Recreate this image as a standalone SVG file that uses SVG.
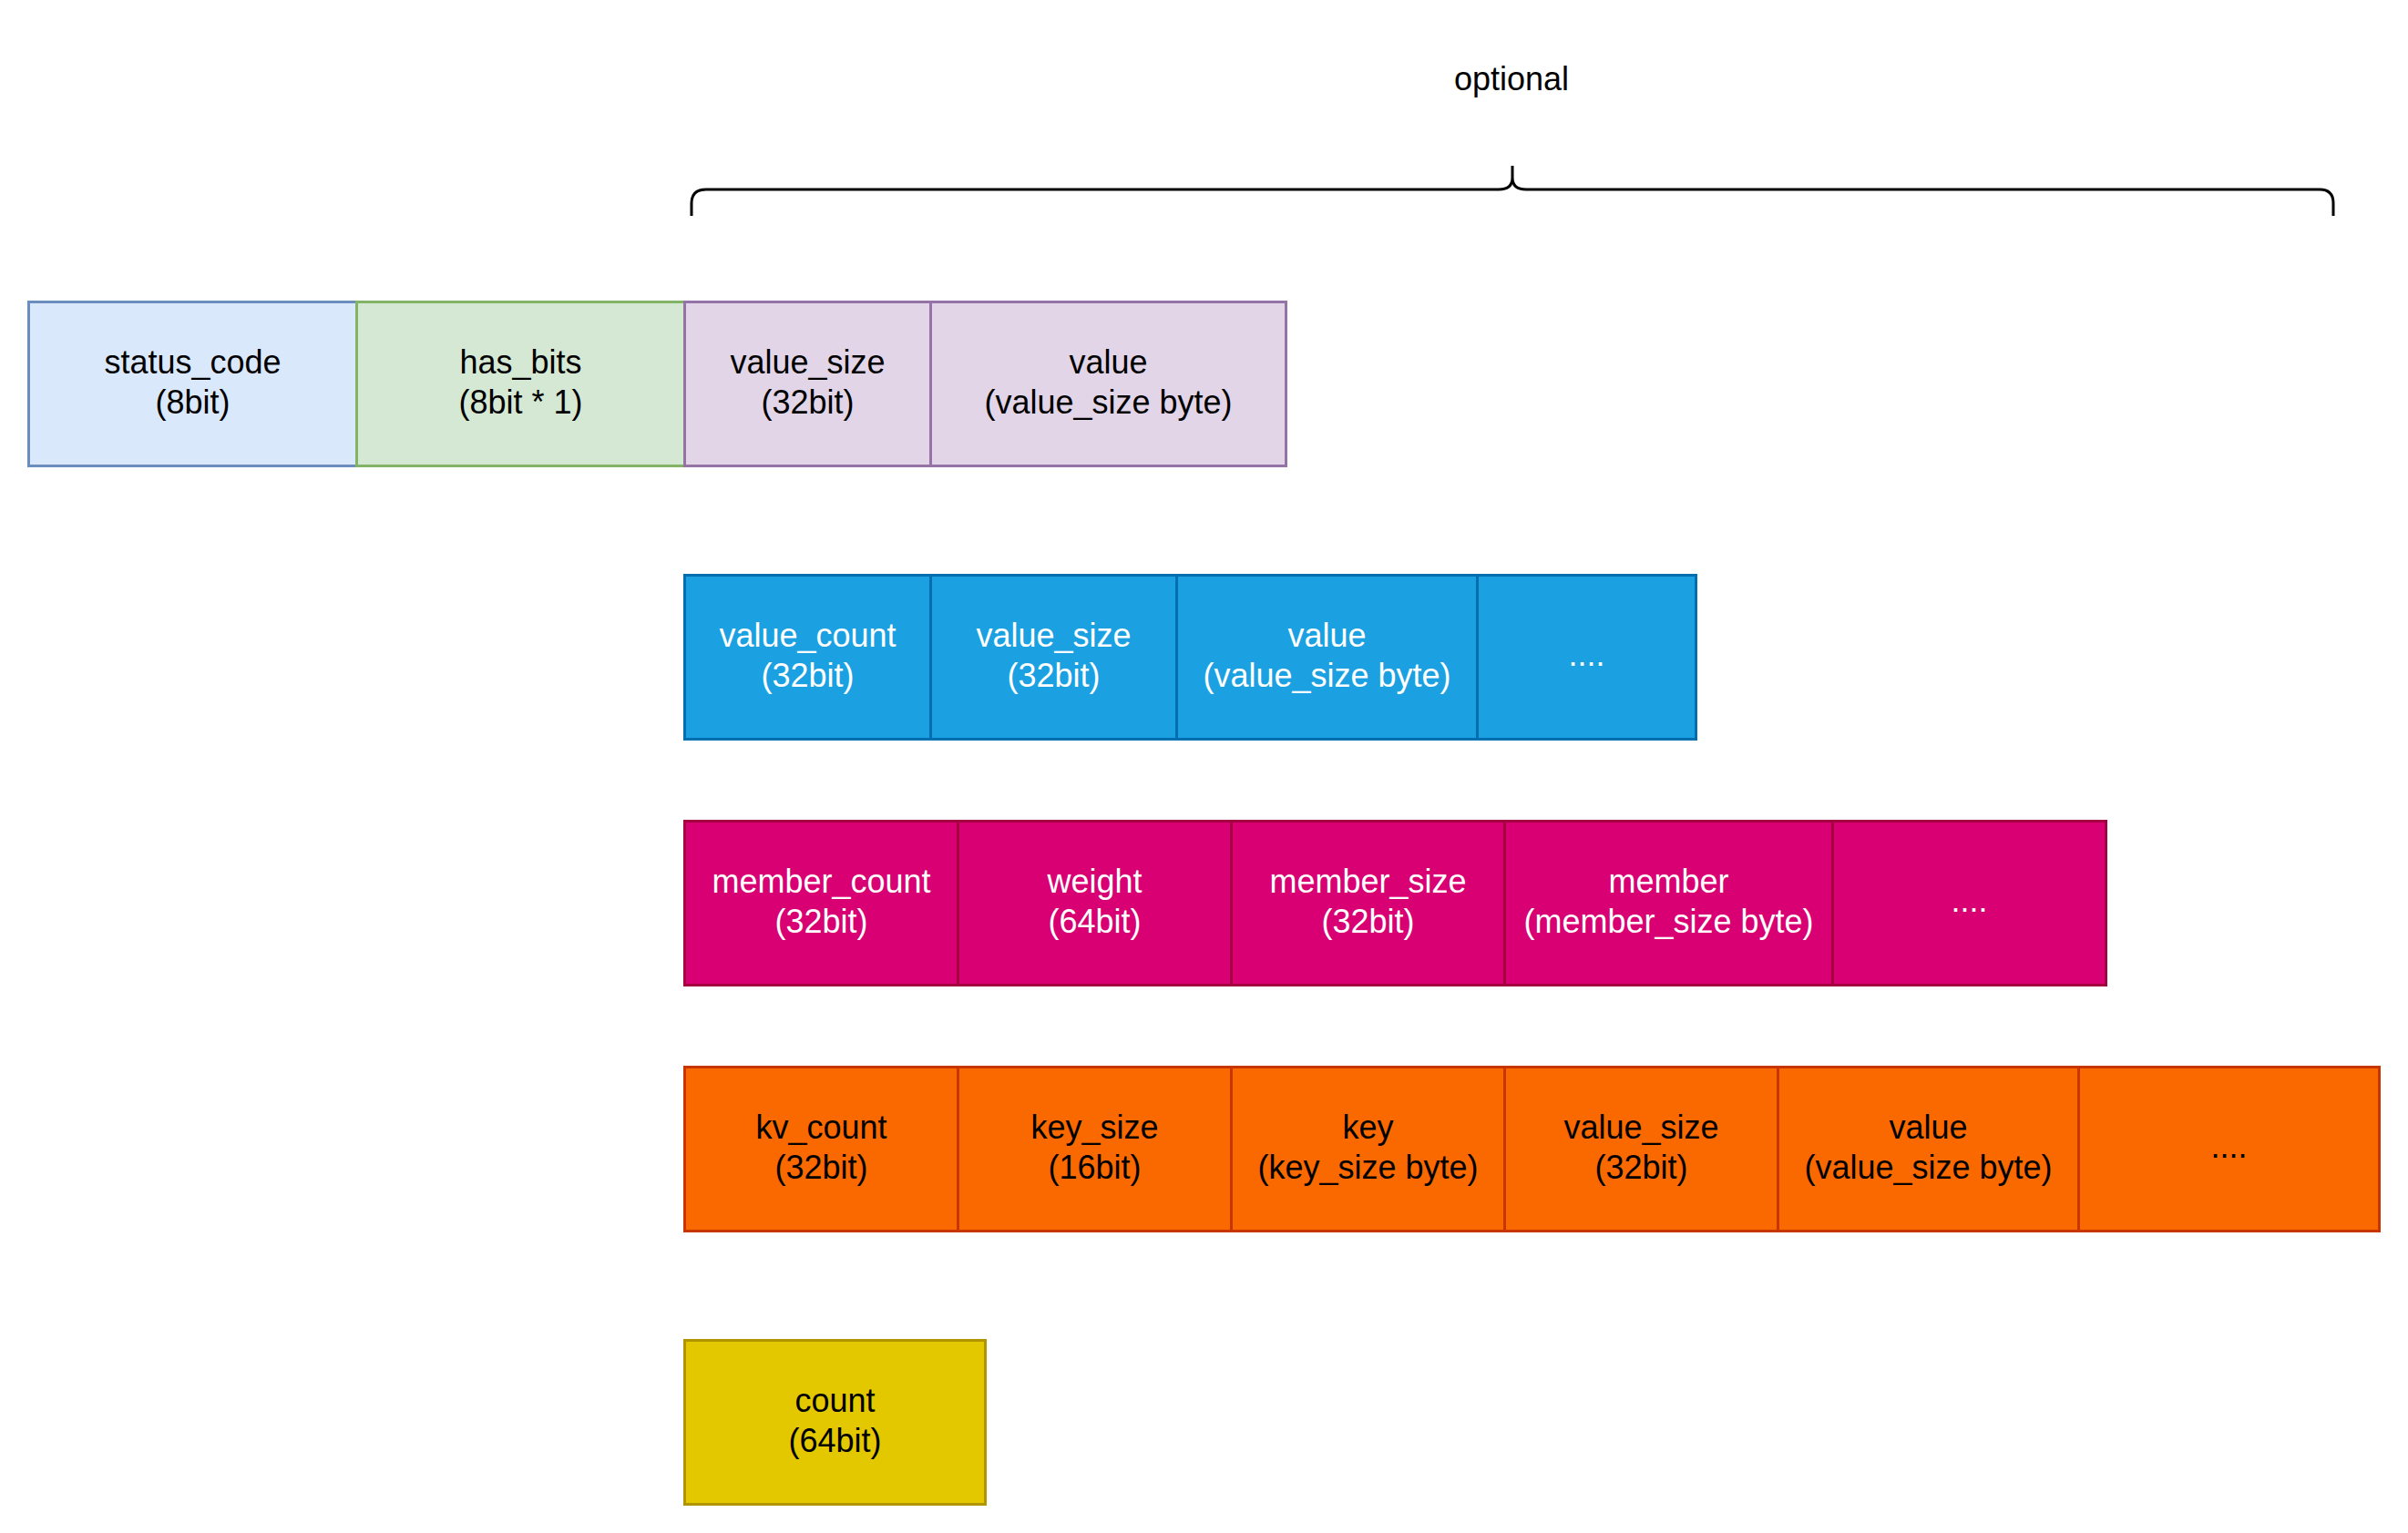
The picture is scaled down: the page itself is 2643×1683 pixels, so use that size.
<svg xmlns="http://www.w3.org/2000/svg" width="2643" height="1683" viewBox="0 0 2643 1683">
<style>
text{font-family:"Liberation Sans",Arial,Helvetica,sans-serif;font-size:36px;text-anchor:middle}
rect{stroke-width:3}
.sc{fill:#dae8fc;stroke:#6c8ebf}
.hb{fill:#d5e8d4;stroke:#82b366}
.pu{fill:#e1d5e7;stroke:#9673a6}
.bl{fill:#1ba1e2;stroke:#006eaf}
.pk{fill:#d80073;stroke:#a50040}
.or{fill:#fa6800;stroke:#c73500}
.ye{fill:#e3c800;stroke:#b09500}
.dk{fill:#000000}
.wt{fill:#ffffff}
</style>
<rect width="2643" height="1683" fill="#ffffff" stroke="none"/>
<g id="brace">
<path d="M759 237 L759 223 Q759 208 775 208 L1645 208 Q1660 208 1660 195 L1660 182 M1660 195 Q1660 208 1675 208 L2546 208 Q2561 208 2561 223 L2561 237" fill="none" stroke="#000000" stroke-width="3"/>
<text class="dk" x="1659" y="99">optional</text>
</g>
<g id="connectors"></g>
<g id="row1">
<g id="status_code"><rect class="sc" x="31.5" y="331.5" width="360" height="180"/><text class="dk" x="211.5" y="410">status_code</text><text class="dk" x="211.5" y="454">(8bit)</text></g>
<g id="has_bits"><rect class="hb" x="391.5" y="331.5" width="360" height="180"/><text class="dk" x="571.5" y="410">has_bits</text><text class="dk" x="571.5" y="454">(8bit * 1)</text></g>
<g id="r1_value_size"><rect class="pu" x="751.5" y="331.5" width="270" height="180"/><text class="dk" x="886.5" y="410">value_size</text><text class="dk" x="886.5" y="454">(32bit)</text></g>
<g id="r1_value"><rect class="pu" x="1021.5" y="331.5" width="390" height="180"/><text class="dk" x="1216.5" y="410">value</text><text class="dk" x="1216.5" y="454">(value_size byte)</text></g>
</g>
<g id="row2">
<g id="r2_value_count"><rect class="bl" x="751.5" y="631.5" width="270" height="180"/><text class="wt" x="886.5" y="710">value_count</text><text class="wt" x="886.5" y="754">(32bit)</text></g>
<g id="r2_value_size"><rect class="bl" x="1021.5" y="631.5" width="270" height="180"/><text class="wt" x="1156.5" y="710">value_size</text><text class="wt" x="1156.5" y="754">(32bit)</text></g>
<g id="r2_value"><rect class="bl" x="1291.5" y="631.5" width="330" height="180"/><text class="wt" x="1456.5" y="710">value</text><text class="wt" x="1456.5" y="754">(value_size byte)</text></g>
<g id="r2_more"><rect class="bl" x="1621.5" y="631.5" width="240" height="180"/><text class="wt" x="1741.5" y="731">....</text></g>
</g>
<g id="row3">
<g id="r3_member_count"><rect class="pk" x="751.5" y="901.5" width="300" height="180"/><text class="wt" x="901.5" y="980">member_count</text><text class="wt" x="901.5" y="1024">(32bit)</text></g>
<g id="r3_weight"><rect class="pk" x="1051.5" y="901.5" width="300" height="180"/><text class="wt" x="1201.5" y="980">weight</text><text class="wt" x="1201.5" y="1024">(64bit)</text></g>
<g id="r3_member_size"><rect class="pk" x="1351.5" y="901.5" width="300" height="180"/><text class="wt" x="1501.5" y="980">member_size</text><text class="wt" x="1501.5" y="1024">(32bit)</text></g>
<g id="r3_member"><rect class="pk" x="1651.5" y="901.5" width="360" height="180"/><text class="wt" x="1831.5" y="980">member</text><text class="wt" x="1831.5" y="1024">(member_size byte)</text></g>
<g id="r3_more"><rect class="pk" x="2011.5" y="901.5" width="300" height="180"/><text class="wt" x="2161.5" y="1001">....</text></g>
</g>
<g id="row4">
<g id="r4_kv_count"><rect class="or" x="751.5" y="1171.5" width="300" height="180"/><text class="dk" x="901.5" y="1250">kv_count</text><text class="dk" x="901.5" y="1294">(32bit)</text></g>
<g id="r4_key_size"><rect class="or" x="1051.5" y="1171.5" width="300" height="180"/><text class="dk" x="1201.5" y="1250">key_size</text><text class="dk" x="1201.5" y="1294">(16bit)</text></g>
<g id="r4_key"><rect class="or" x="1351.5" y="1171.5" width="300" height="180"/><text class="dk" x="1501.5" y="1250">key</text><text class="dk" x="1501.5" y="1294">(key_size byte)</text></g>
<g id="r4_value_size"><rect class="or" x="1651.5" y="1171.5" width="300" height="180"/><text class="dk" x="1801.5" y="1250">value_size</text><text class="dk" x="1801.5" y="1294">(32bit)</text></g>
<g id="r4_value"><rect class="or" x="1951.5" y="1171.5" width="330" height="180"/><text class="dk" x="2116.5" y="1250">value</text><text class="dk" x="2116.5" y="1294">(value_size byte)</text></g>
<g id="r4_more"><rect class="or" x="2281.5" y="1171.5" width="330" height="180"/><text class="dk" x="2446.5" y="1271">....</text></g>
</g>
<g id="row5">
<g id="r5_count"><rect class="ye" x="751.5" y="1471.5" width="330" height="180"/><text class="dk" x="916.5" y="1550">count</text><text class="dk" x="916.5" y="1594">(64bit)</text></g>
</g>
</svg>
